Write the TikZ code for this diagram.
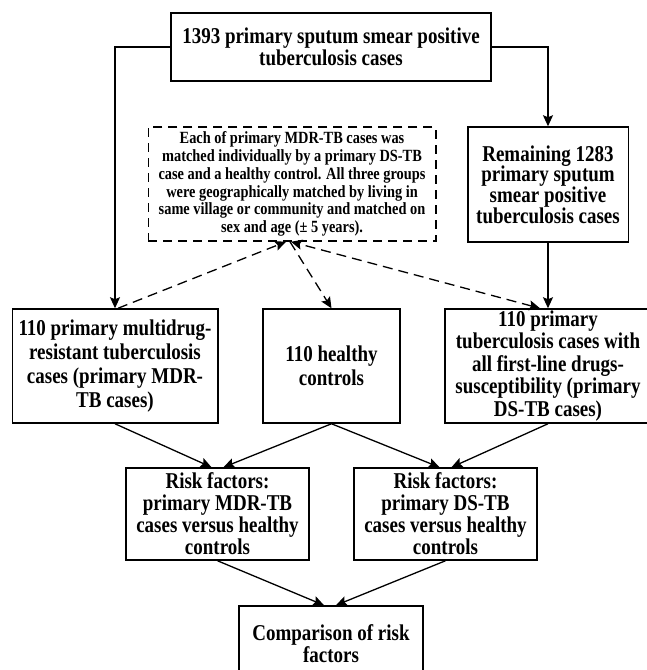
\documentclass[tikz,border=0pt]{standalone}
\usepackage{fontspec}
\setmainfont{Liberation Serif}
\newfontfamily\tnr{Liberation Serif}[FakeStretch=0.84]
\usetikzlibrary{arrows.meta}
\begin{document}
\begin{tikzpicture}[x=1pt,y=-1pt,
  box/.style={draw, line width=1.5pt, inner sep=0pt, align=center, font=\tnr\bfseries\fontsize{22.6}{22}\selectfont},
  dbox/.style={draw, line width=1.5pt, dash pattern=on 9pt off 6pt, inner sep=0pt, align=center, font=\tnr\bfseries\fontsize{17.1}{17.8}\selectfont},
  conn/.style={line width=1.3pt, -{Stealth[length=11pt,width=10pt,inset=2pt]}},
  dconn/.style={line width=1.3pt, dash pattern=on 10pt off 6pt},
  tip/.style={-{Stealth[length=11pt,width=10pt,inset=2pt]}},
  bothtip/.style={{Stealth[length=11pt,width=10pt,inset=2pt]}-{Stealth[length=11pt,width=10pt,inset=2pt]}}
]
\useasboundingbox (0,0) rectangle (647,670);

\node[box, minimum width=320pt, minimum height=68pt] (top) at (331,47)
  {1393 primary sputum smear positive\\tuberculosis cases};
\node[box, minimum width=160.5pt, minimum height=115pt, font=\tnr\bfseries\fontsize{22.6}{20.8}\selectfont] (rem) at (548,184.5)
  {Remaining 1283\\primary sputum\\smear positive\\tuberculosis cases};
\node[dbox, minimum width=287.5pt, minimum height=114pt] (dash) at (292,184)
  {Each of primary MDR-TB cases was\\matched individually by a primary DS-TB\\case and a healthy control. All three groups\\were geographically matched by living in\\same village or community and matched on\\sex and age (± 5 years).};
\node[box, minimum width=205.5pt, minimum height=114pt, font=\tnr\bfseries\fontsize{22.6}{24}\selectfont] (mdr) at (115,366)
  {110 primary multidrug-\\resistant tuberculosis\\cases (primary MDR-\\TB cases)};
\node[box, minimum width=137pt, minimum height=114pt, font=\tnr\bfseries\fontsize{22.6}{24}\selectfont] (hc) at (331.5,366)
  {110 healthy\\controls};
\node[box, minimum width=206pt, minimum height=114pt, font=\tnr\bfseries\fontsize{22.6}{22.5}\selectfont] (ds) at (548,366)
  {110 primary\\tuberculosis cases with\\all first-line drugs-\\susceptibility (primary\\DS-TB cases)};
\node[box, minimum width=183pt, minimum height=92pt] (rm) at (217.5,514)
  {Risk factors:\\primary MDR-TB\\cases versus healthy\\controls};
\node[box, minimum width=183pt, minimum height=92pt] (rd) at (445.5,514)
  {Risk factors:\\primary DS-TB\\cases versus healthy\\controls};
\node[box, minimum width=184pt, minimum height=76pt, font=\tnr\bfseries\fontsize{22.6}{20}\selectfont] (cmp) at (331,644)
  {Comparison of risk\\factors};

\draw[conn] (top.west) -| (mdr.north);
\draw[conn] (top.east) -| (rem.north);
\draw[conn] (rem.south) -- (ds.north);

\draw[dconn, tip] ([xshift=3pt]mdr.north) -- ([xshift=-6pt]dash.south);
\draw[dconn, tip] ([xshift=-2pt]dash.south) -- (hc.north);
\draw[dconn, bothtip] ([xshift=-8pt]ds.north) -- ([xshift=-1pt]dash.south);

\draw[conn] (mdr.south) -- ([xshift=-6pt]rm.north);
\draw[conn] (hc.south) -- ([xshift=6pt]rm.north);
\draw[conn] (hc.south) -- ([xshift=-6pt]rd.north);
\draw[conn] (ds.south) -- ([xshift=6pt]rd.north);

\draw[conn] (rm.south) -- ([xshift=-7pt]cmp.north);
\draw[conn] (rd.south) -- ([xshift=5pt]cmp.north);
\end{tikzpicture}
\end{document}
